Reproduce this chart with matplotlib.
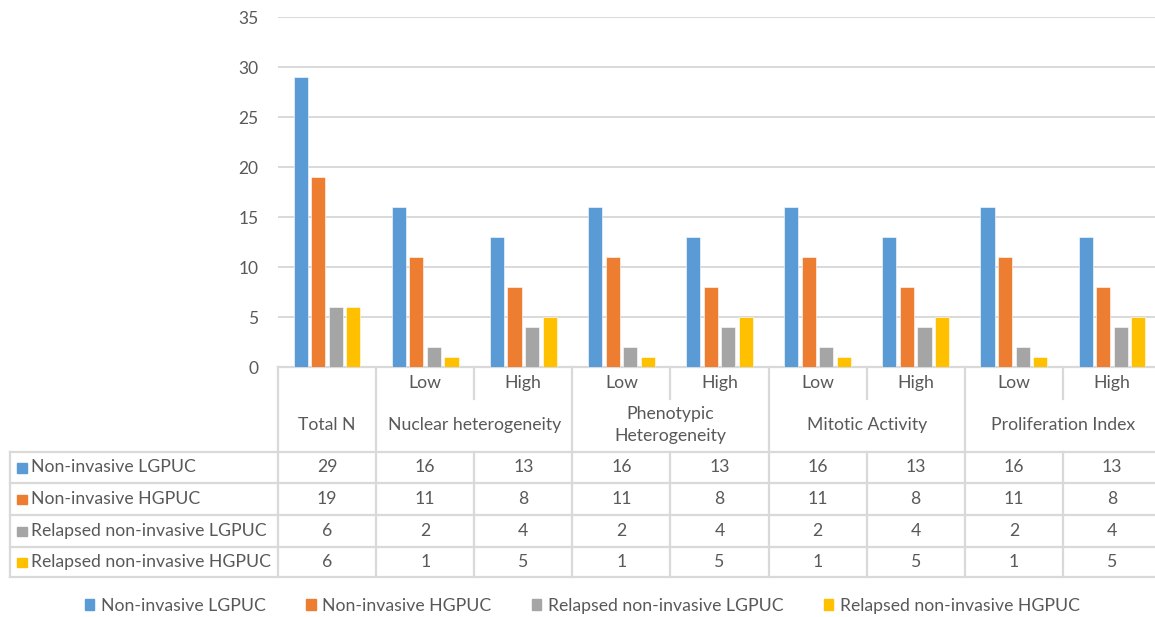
import matplotlib
matplotlib.use("Agg")
import matplotlib.pyplot as plt
import matplotlib.transforms as mtransforms
from matplotlib.patches import Rectangle
import numpy as np

plt.rcParams["font.family"] = ["Lato", "DejaVu Sans"]

W, H = 1155, 617
TXT = "#595959"
GRID = "#d9d9d9"

# data
sub_labels = ["", "Low", "High", "Low", "High", "Low", "High", "Low", "High"]
groups = ["Total N", "Nuclear heterogeneity", "Phenotypic\nHeterogeneity",
          "Mitotic Activity", "Proliferation Index"]
series = ["Non-invasive LGPUC", "Non-invasive HGPUC",
          "Relapsed non-invasive LGPUC", "Relapsed non-invasive HGPUC"]
lg_nonrel = [29, 16, 13, 16, 13, 16, 13, 16, 13]
hg_nonrel = [19, 11, 8, 11, 8, 11, 8, 11, 8]
lg_rel = [6, 2, 4, 2, 4, 2, 4, 2, 4]
hg_rel = [6, 1, 5, 1, 5, 1, 5, 1, 5]
colors = ["#5b9bd5", "#ed7d31", "#a5a5a5", "#ffc000"]

values = [lg_nonrel, hg_nonrel, lg_rel, hg_rel]
ncat = len(lg_nonrel)

fig = plt.figure(figsize=(W / 100, H / 100), dpi=100)
left, right, top, bot = 278, 1161, 17.3, 367
ax = fig.add_axes([left / W, 1 - bot / H, (right - left) / W, (bot - top) / H])

x = np.arange(ncat)
step, bw = 0.179, 0.143
for k, (vals, c) in enumerate(zip(values, colors)):
    ax.bar(x + (k - 1.5) * step, vals, width=bw, color=c, zorder=3,
           edgecolor="white", linewidth=0.4)

ax.set_xlim(-0.5, ncat - 0.5)
ax.set_ylim(0, 35)
ax.set_yticks(range(0, 36, 5))
ax.set_xticks([])
ax.tick_params(axis="y", length=0, pad=14, labelsize=12.5, labelcolor=TXT)
ax.grid(axis="y", color=GRID, lw=1.4, zorder=0)
for s in ax.spines.values():
    s.set_visible(False)

# transforms: pixel coords from top-left, and data-x / pixel-y
pix = mtransforms.Affine2D().scale(1 / W, -1 / H).translate(0, 1) + fig.transFigure
dx_py = mtransforms.blended_transform_factory(ax.transData, pix)
lkw = dict(color=GRID, lw=1.6, clip_on=False, zorder=1)

# table lines
row_y = [452, 483, 515, 547, 577]
ax.plot([-0.5, ncat - 0.5], [bot, bot], transform=dx_py, **lkw)
for yy in row_y:
    ax.plot([10, 1161], [yy, yy], transform=pix, **lkw)
ax.plot([10, 10], [452, 577], transform=pix, **lkw)
for b in [-0.5, 0.5, 2.5, 4.5, 6.5]:
    ax.plot([b, b], [bot, 577], transform=dx_py, **lkw)
for b in [1.5, 3.5, 5.5, 7.5]:
    ax.plot([b, b], [bot, 399], transform=dx_py, **lkw)
    ax.plot([b, b], [452, 577], transform=dx_py, **lkw)

# header text
fs = 12.7
for i, s in enumerate(sub_labels):
    if s:
        ax.text(i, 383, s, transform=dx_py, ha="center", va="center",
                fontsize=fs, color=TXT)
group_x = [0, 1.5, 3.5, 5.5, 7.5]
for gx, g in zip(group_x, groups):
    ax.text(gx, 425, g, transform=dx_py, ha="center", va="center",
            fontsize=fs, color=TXT, linespacing=1.5)

# data rows
row_c = [(row_y[r] + row_y[r + 1]) / 2 for r in range(4)]
for r, (name, vals, c) in enumerate(zip(series, values, colors)):
    yc = row_c[r]
    fig.add_artist(Rectangle((17, yc - 4.5), 9.5, 9.5, transform=pix,
                             color=c, clip_on=False))
    ax.text(31, yc, name, transform=pix, ha="left", va="center",
            fontsize=fs, color=TXT)
    for i, v in enumerate(vals):
        ax.text(i, yc, str(v), transform=dx_py, ha="center", va="center",
                fontsize=fs, color=TXT)

# legend
handles = [Rectangle((0, 0), 1, 1, color=c) for c in colors]
fig.legend(handles, series, loc="center", bbox_to_anchor=(0.504, 1 - 606 / H),
           ncol=4, frameon=False, fontsize=fs, labelcolor=TXT,
           handlelength=0.55, handleheight=0.55, handletextpad=0.35,
           columnspacing=2.3)

fig.savefig("out.png", dpi=100)
